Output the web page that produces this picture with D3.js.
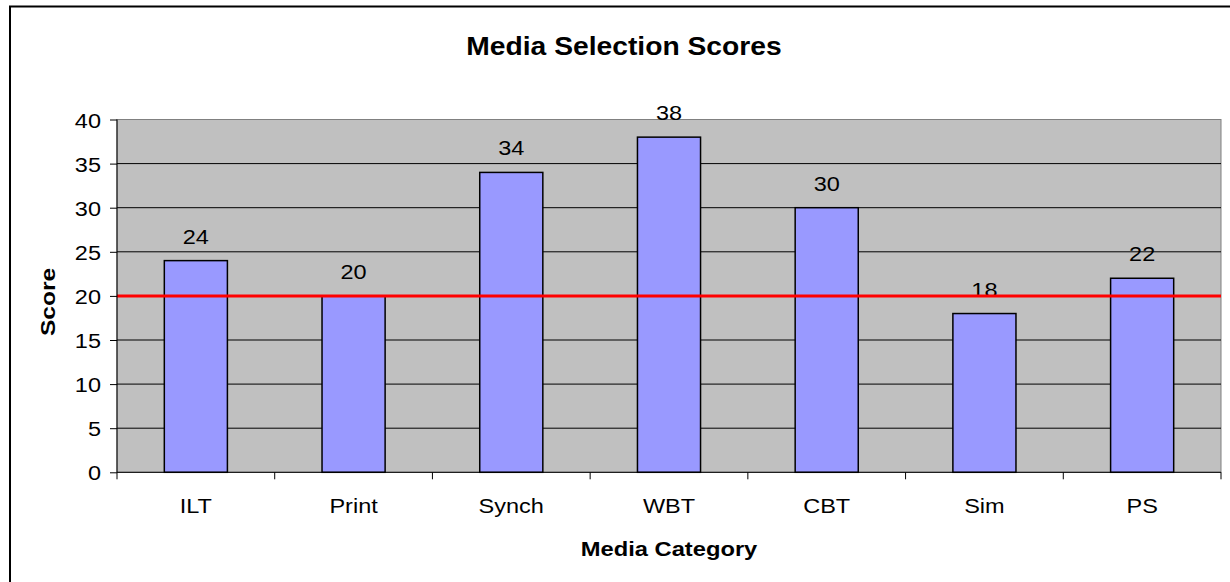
<!DOCTYPE html>
<html>
<head>
<meta charset="utf-8">
<script src="https://cdn.jsdelivr.net/npm/d3@7"></script>
<style>
  body { margin: 0; background: #fff; }
  svg { display: block; font-family: "Liberation Sans", Arial, sans-serif; }
</style>
</head>
<body>
<svg id="chart"></svg>
<script>
const categories = ['ILT', 'Print', 'Synch', 'WBT', 'CBT', 'Sim', 'PS'];
const scores = [24, 20, 34, 38, 30, 18, 22];
const threshold = 20;
const yTicks = [0, 5, 10, 15, 20, 25, 30, 35, 40];

const global_width = 1230,
  global_height = 582;

// plot area
const plotLeft = 117, plotRight = 1221,
  plotTop = 119.5, plotBottom = 472.3;

// the original renders its text a bit wider than Arial
const labelSize = 21, stretch = 1.12;

const svg = d3.select('#chart')
  .attr('width', global_width)
  .attr('height', global_height);

// outer chart border (cut off on the right and bottom)
svg.append('rect')
  .attr('x', 10).attr('y', 6.5)
  .attr('width', 1240).attr('height', 600)
  .attr('fill', '#fff')
  .attr('stroke', '#000')
  .attr('stroke-width', 2);

const x = d3.scaleBand()
  .domain(categories)
  .range([plotLeft, plotRight])
  .paddingInner(0.6)
  .paddingOuter(0.3);

const xBound = d3.scaleLinear()
  .domain([0, categories.length])
  .range([plotLeft, plotRight]);

const y = d3.scaleLinear()
  .domain([0, 40])
  .range([plotBottom, plotTop]);

// plot background
svg.append('rect')
  .attr('x', plotLeft).attr('y', plotTop)
  .attr('width', plotRight - plotLeft)
  .attr('height', plotBottom - plotTop)
  .attr('fill', '#c0c0c0')
  .attr('stroke', '#808080')
  .attr('stroke-width', 1);

// gridlines
svg.append('g')
  .selectAll('line')
  .data(yTicks.filter(d => d > 0 && d < 40))
  .enter()
  .append('line')
  .attr('x1', plotLeft).attr('x2', plotRight)
  .attr('y1', d => y(d)).attr('y2', d => y(d))
  .attr('stroke', '#000')
  .attr('stroke-width', 1);

// bars
svg.append('g')
  .selectAll('rect')
  .data(scores)
  .enter()
  .append('rect')
  .attr('x', (d, i) => x(categories[i]))
  .attr('y', d => y(d))
  .attr('width', x.bandwidth())
  .attr('height', d => plotBottom - y(d))
  .attr('fill', '#9999ff')
  .attr('stroke', '#000')
  .attr('stroke-width', 1.5);

// value labels
svg.append('g')
  .selectAll('text')
  .data(scores)
  .enter()
  .append('text')
  .attr('transform', (d, i) => 'translate(' + (x(categories[i]) + x.bandwidth() / 2) + ',' + (y(d) - 17) + ') scale(' + stretch + ',1)')
  .attr('text-anchor', 'middle')
  .attr('font-size', labelSize)
  .attr('fill', '#000')
  .text(d => d);

// threshold line
svg.append('line')
  .attr('x1', plotLeft).attr('x2', plotRight)
  .attr('y1', y(threshold)).attr('y2', y(threshold))
  .attr('stroke', '#ff0000')
  .attr('stroke-width', 3);

// y axis
const yAxis = d3.axisLeft(y)
  .tickValues(yTicks)
  .tickSize(7)
  .tickPadding(8);

const yg = svg.append('g')
  .attr('transform', 'translate(' + plotLeft + ',0)')
  .call(yAxis);
yg.select('.domain').attr('stroke', '#000').attr('d', 'M0,' + plotTop + 'V' + plotBottom);
yg.selectAll('.tick line').attr('stroke', '#000');
yg.selectAll('.tick text')
  .attr('x', null)
  .attr('dy', null)
  .attr('transform', 'translate(-16,7.5) scale(' + stretch + ',1)')
  .attr('font-size', labelSize)
  .attr('font-family', '"Liberation Sans", Arial, sans-serif')
  .attr('fill', '#000');

// x axis
svg.append('line')
  .attr('x1', plotLeft).attr('x2', plotRight)
  .attr('y1', plotBottom).attr('y2', plotBottom)
  .attr('stroke', '#000');

svg.append('g')
  .selectAll('line')
  .data(d3.range(categories.length + 1))
  .enter()
  .append('line')
  .attr('x1', d => xBound(d)).attr('x2', d => xBound(d))
  .attr('y1', plotBottom).attr('y2', plotBottom + 7)
  .attr('stroke', '#000');

svg.append('g')
  .selectAll('text')
  .data(categories)
  .enter()
  .append('text')
  .attr('transform', d => 'translate(' + (x(d) + x.bandwidth() / 2) + ',512.5) scale(' + stretch + ',1)')
  .attr('text-anchor', 'middle')
  .attr('font-size', labelSize)
  .attr('fill', '#000')
  .text(d => d);

// titles
svg.append('text')
  .attr('transform', 'translate(624,55) scale(1.13,1)')
  .attr('text-anchor', 'middle')
  .attr('font-size', 25)
  .attr('font-weight', 'bold')
  .text('Media Selection Scores');

svg.append('text')
  .attr('transform', 'translate(' + ((plotLeft + plotRight) / 2) + ',556) scale(1.13,1)')
  .attr('text-anchor', 'middle')
  .attr('font-size', 21)
  .attr('font-weight', 'bold')
  .text('Media Category');

svg.append('text')
  .attr('transform', 'translate(55,' + ((plotTop + plotBottom) / 2 + 6) + ') rotate(-90) scale(1.17,1)')
  .attr('text-anchor', 'middle')
  .attr('font-size', 21)
  .attr('font-weight', 'bold')
  .text('Score');
</script>
</body>
</html>
